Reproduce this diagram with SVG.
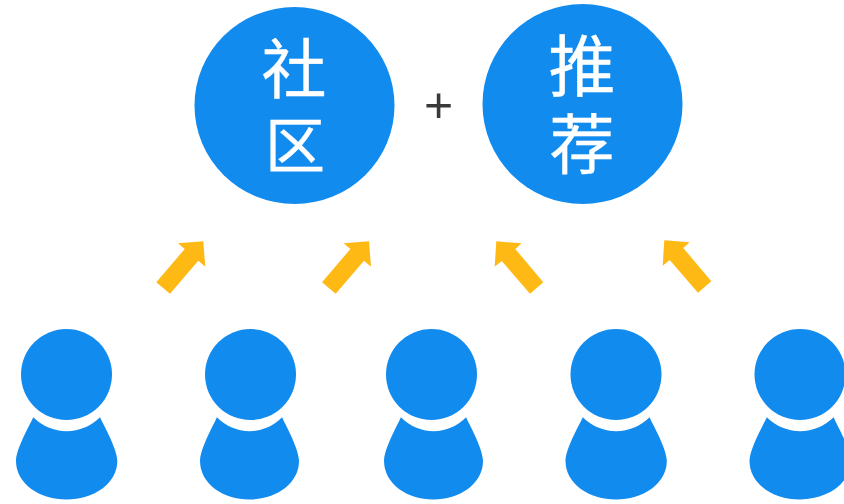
<svg xmlns="http://www.w3.org/2000/svg" width="844" height="504" viewBox="0 0 844 504">
<style>
.b{fill:#128bef}
.a{fill:#ffb914}
.t{font-family:"Noto Sans CJK SC","Noto Sans",sans-serif;font-size:65px;fill:#fff;stroke:#fff;stroke-width:.4px;text-anchor:middle}
.p{font-family:"Liberation Sans",sans-serif;font-size:50px;fill:#3a3a3a;text-anchor:middle}
</style>
<defs>
<g id="head"><circle class="b" cx="66.5" cy="374.5" r="45.5"/></g>
<g id="body">
<path class="b" d="M33.300 417.300A47 47 0 0 0 100 417.300C104 426 117.300 449 117.300 461C117.300 484 93 499.500 66.500 499.500C40 499.500 16 484 16 461C16 449 29.300 426 33.300 417.300Z"/>
</g>
<path id="ar" class="a" d="M156.300 282.300L170 293.700L198.300 260.700L205.300 266.700L203.300 241.300L178 243.300L184.700 249Z"/>
<path id="al" class="a" d="M543.300 282.300L530 293.700L501.700 261L494.700 266.700L496.300 241.300L521.700 243.300L515.300 249Z"/>
</defs>
<g id="node-community">
<ellipse class="b" cx="294.500" cy="105.500" rx="100" ry="98.500"/>
<text class="t" x="294" y="92.500">社</text>
<text class="t" x="295" y="167.500" style="font-size:60px">区</text>
</g>
<text id="plus" class="p" x="438.500" y="122">+</text>
<g id="node-recommend">
<ellipse class="b" cx="582.500" cy="104" rx="100" ry="100"/>
<text class="t" x="582" y="91" style="font-size:67px">推</text>
<text class="t" x="582" y="167.500">荐</text>
</g>
<g id="connectors">
<use href="#ar"/>
<use href="#ar" x="165.700"/>
<use href="#al"/>
<use href="#al" x="168" y="-1"/>
</g>
<g id="user-1"><use href="#head"/><use href="#body"/></g>
<g id="user-2"><use href="#head" x="184"/><use href="#body" transform="translate(184.400 0) scale(.977 1)"/></g>
<g id="user-3"><use href="#head" x="365"/><use href="#body" transform="translate(368.400 0) scale(.977 1)"/></g>
<g id="user-4"><use href="#head" x="549.500"/><use href="#body" x="549.500"/></g>
<g id="user-5"><use href="#head" x="733.500"/><use href="#body" x="733.500"/></g>
</svg>
